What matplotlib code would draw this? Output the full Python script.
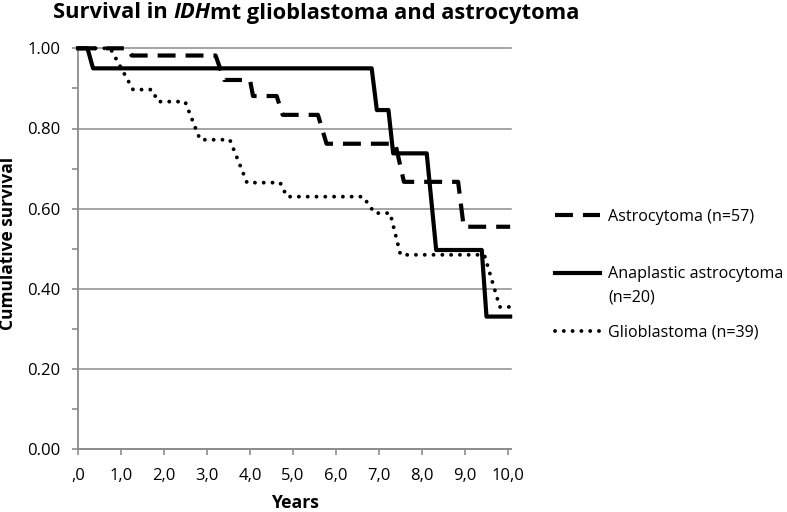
import matplotlib
matplotlib.use("Agg")
import matplotlib.pyplot as plt
from matplotlib.lines import Line2D

FAM = ['Open Sans', 'DejaVu Sans']
plt.rcParams['font.family'] = FAM

# ---- data (Kaplan-Meier curve vertices) ----
astro_years = [0, 1.15, 1.25, 3.2, 3.4, 4.0, 4.07, 4.62, 4.76, 5.58, 5.78, 7.38, 7.58, 8.84, 8.97, 10.05]
astro_surv = [1.0, 1.0, 0.982, 0.982, 0.921, 0.921, 0.881, 0.881, 0.834, 0.834, 0.762, 0.762, 0.667, 0.667, 0.555, 0.555]

ana_years = [0, 0.22, 0.35, 6.83, 6.95, 7.22, 7.33, 8.11, 8.33, 9.39, 9.5, 10.05]
ana_surv = [1.0, 1.0, 0.95, 0.95, 0.846, 0.846, 0.738, 0.738, 0.497, 0.497, 0.331, 0.331]

glio_years = [0, 0.75, 1.28, 1.72, 1.86, 2.49, 2.84, 3.53, 3.93, 4.7, 4.86, 6.63, 6.9, 7.26, 7.5, 9.45, 9.81, 10.05]
glio_surv = [1.0, 1.0, 0.897, 0.897, 0.867, 0.867, 0.772, 0.772, 0.665, 0.665, 0.63, 0.63, 0.589, 0.589, 0.485, 0.485, 0.355, 0.355]

series_labels = ["Astrocytoma (n=57)", "Anaplastic astrocytoma", "Glioblastoma (n=39)"]
ana_label_line2 = "(n=20)"

x_ticks = [0, 1, 2, 3, 4, 5, 6, 7, 8, 9, 10]
x_tick_labels = [",0", "1,0", "2,0", "3,0", "4,0", "5,0", "6,0", "7,0", "8,0", "9,0", "10,0"]
y_ticks = [0.0, 0.2, 0.4, 0.6, 0.8, 1.0]
y_tick_labels = ["0.00", "0.20", "0.40", "0.60", "0.80", "1.00"]
y_minor = [0.1, 0.3, 0.5, 0.7, 0.9]

title_parts = ["Survival in ", "IDH", "mt glioblastoma and astrocytoma"]

# ---- figure ----
W, H = 787, 512
fig = plt.figure(figsize=(W / 100, H / 100), dpi=100)
renderer = fig.canvas.get_renderer()


def fit_size(s, target_px, **kw):
    t = fig.text(0, 0, s, fontsize=10, **kw)
    w = t.get_window_extent(renderer=renderer).width
    t.remove()
    return 10 * target_px / w


def fit_parts(parts, styles, target_px, **kw):
    tot = 0
    for p, st in zip(parts, styles):
        t = fig.text(0, 0, p, fontsize=10, style=st, **kw)
        tot += t.get_window_extent(renderer=renderer).width
        t.remove()
    return 10 * target_px / tot


title_styles = ["normal", "italic", "normal"]
fs_title = fit_parts(title_parts, title_styles, 527, fontweight="bold")
fs_lab = fit_size("Years", 48, fontweight="bold")
fs_ylab = fit_size("Cumulative survival", 173, fontweight="bold")
fs_leg = fit_size(series_labels[1], 175)
fs_tick = fit_size("0.40", 33)

ax = fig.add_axes([78 / W, 1 - 449.3 / H, (511 - 78) / W, (449.3 - 48.3) / H])

gray = "#8c8c8c"
lw = 3.0
dash = (0, (4.3, 2.4))
dots = (0, (0.01, 2.25))
ax.plot(astro_years, astro_surv, color="black", lw=lw, linestyle=dash,
        dash_capstyle="butt", clip_on=False, zorder=3)
ax.plot(ana_years, ana_surv, color="black", lw=lw, linestyle="-",
        clip_on=False, zorder=4)
ax.plot(glio_years, glio_surv, color="black", lw=2.8, linestyle=dots,
        dash_capstyle="round", clip_on=False, zorder=3)

ax.set_xlim(0, 10.07)
ax.set_ylim(0, 1.0)
ax.set_xticks(x_ticks)
ax.set_xticklabels(x_tick_labels)
ax.set_yticks(y_ticks)
ax.set_yticklabels(y_tick_labels)
ax.set_yticks(y_minor, minor=True)

for s in ["top", "right"]:
    ax.spines[s].set_visible(False)
for s in ["left", "bottom"]:
    ax.spines[s].set_color(gray)
    ax.spines[s].set_linewidth(1.3)

ax.yaxis.grid(True, which="major", color=gray, lw=1.1)
for gl in ax.yaxis.get_gridlines():
    gl.set_clip_on(False)
ax.set_axisbelow(True)

ax.tick_params(axis="both", which="both", color=gray, width=1.2, length=4, direction="out",
               labelsize=fs_tick, labelcolor="black")
ax.tick_params(axis="y", which="major", pad=8.5)
ax.tick_params(axis="x", which="major", pad=9.5)

ax.set_xlabel("Years", fontsize=fs_lab, fontweight="bold")
ax.xaxis.label.set_va("baseline")
ax.xaxis.set_label_coords(0.5, (449.3 - 507.5) / 401)
ax.set_ylabel("Cumulative survival", fontsize=fs_ylab, fontweight="bold")
ax.yaxis.label.set_va("baseline")
ax.yaxis.set_label_coords((13.5 - 78) / 433, (449.3 - 243.5) / 401)

# title with italic IDH
x0 = 53 / W
y0 = 1 - 18.5 / H
for part, st in zip(title_parts, title_styles):
    t = fig.text(x0, y0, part, fontsize=fs_title, fontweight="bold", style=st,
                 ha="left", va="baseline")
    bb = t.get_window_extent(renderer=renderer)
    x0 = x0 + bb.width / W
    if st == "italic":
        x0 -= 1 / W

# legend
fpx = fs_leg * 100 / 72
handles = [
    Line2D([], [], color="black", lw=lw, linestyle=dash, dash_capstyle="butt"),
    Line2D([], [], color="black", lw=lw, linestyle="-"),
    Line2D([], [], color="black", lw=2.8, linestyle=dots, dash_capstyle="round"),
]
leg = fig.legend(handles, series_labels, loc="center left",
                 bbox_to_anchor=(555 / W, 1 - 274.5 / H), frameon=False,
                 fontsize=fs_leg, handlelength=45 / fpx, handletextpad=8 / fpx,
                 labelspacing=2.6, borderpad=0, borderaxespad=0)
fig.text(608 / W, 1 - 297 / H, ana_label_line2, fontsize=fs_leg, ha="left", va="center")

fig.savefig("out.png", dpi=100)
